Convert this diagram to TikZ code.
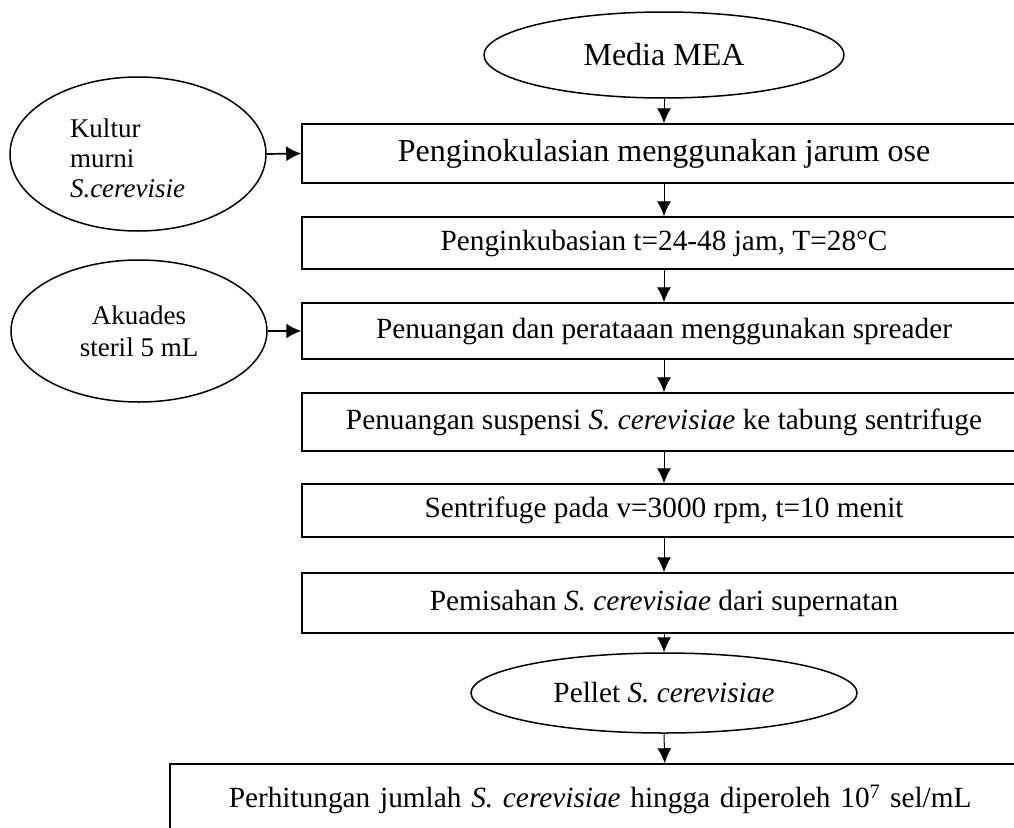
\documentclass[tikz,border=0pt]{standalone}
\usepackage{fontspec}
\setmainfont{Liberation Serif}
\usetikzlibrary{shapes.geometric,arrows.meta}

\begin{document}
\begin{tikzpicture}[
    x=1pt, y=-1pt,
    proc/.style={rectangle, draw, line width=1.5pt, inner sep=0pt, minimum width=724pt, font=\fontsize{29.3}{33}\selectfont},
    bahan/.style={ellipse, draw, line width=1.5pt, inner sep=0pt, font=\fontsize{27}{32}\selectfont, align=center},
    alur/.style={-{Latex[length=15pt,width=14pt]}, line width=1pt},
    masuk/.style={-{Latex[length=15pt,width=15pt]}, line width=1.7pt}
]
\useasboundingbox (0,0) rectangle (1014,827);

% Bahan awal
\node[bahan, minimum width=360pt, minimum height=86pt, font=\fontsize{32}{36}\selectfont] (media) at (664,55) {Media MEA};
\node[bahan, minimum width=256pt, minimum height=154pt, font=\fontsize{27}{30}\selectfont, text width=136pt, align=left] (kultur) at (138,154) {\raisebox{-7pt}[\height][\depth]{\begin{tabular}{@{}l@{}}Kultur\\murni\\\textit{S.cerevisie}\end{tabular}}};
\node[bahan, minimum width=256pt, minimum height=142pt] (akuades) at (139,331) {Akuades\\steril 5 mL};

% Tahapan proses
\node[proc, minimum height=59pt, font=\fontsize{32}{36}\selectfont] (inok) at (664,153.5) {Penginokulasian menggunakan jarum ose};
\node[proc, minimum height=52pt] (inkub) at (664,243) {Penginkubasian t=24-48 jam, T=28°C};
\node[proc, minimum height=56pt] (tuang) at (664,331) {Penuangan dan perataaan menggunakan spreader};
\node[proc, minimum height=58pt] (susp) at (664,422) {Penuangan suspensi \textit{S. cerevisiae} ke tabung sentrifuge};
\node[proc, minimum height=53pt] (sentri) at (664,510.5) {Sentrifuge pada v=3000 rpm, t=10 menit};
\node[proc, minimum height=60pt] (pisah) at (664,603) {Pemisahan \textit{S. cerevisiae} dari supernatan};

% Hasil
\node[bahan, minimum width=386pt, minimum height=80pt, font=\fontsize{29.3}{33}\selectfont] (pellet) at (664,693) {Pellet \textit{S. cerevisiae}};
\node[proc, anchor=west, minimum height=70pt, inner xsep=59pt, text width=872pt, align=left] (hitung) at (169,799) {Perhitungan jumlah \textit{S. cerevisiae} hingga diperoleh 10\textsuperscript{7} sel/mL};

% Alur
\draw[alur] (media.south) -- (inok.north);
\draw[alur] (inok.south) -- (inkub.north);
\draw[alur] (inkub.south) -- (tuang.north);
\draw[alur] (tuang.south) -- (susp.north);
\draw[alur] (susp.south) -- (sentri.north);
\draw[alur] (sentri.south) -- (pisah.north);
\draw[alur] (pisah.south) -- (pellet.north);
\draw[alur] (pellet.south) -- (hitung.north);
\draw[masuk] (kultur.east) -- (inok.west);
\draw[masuk] (akuades.east) -- (tuang.west);

\end{tikzpicture}
\end{document}
